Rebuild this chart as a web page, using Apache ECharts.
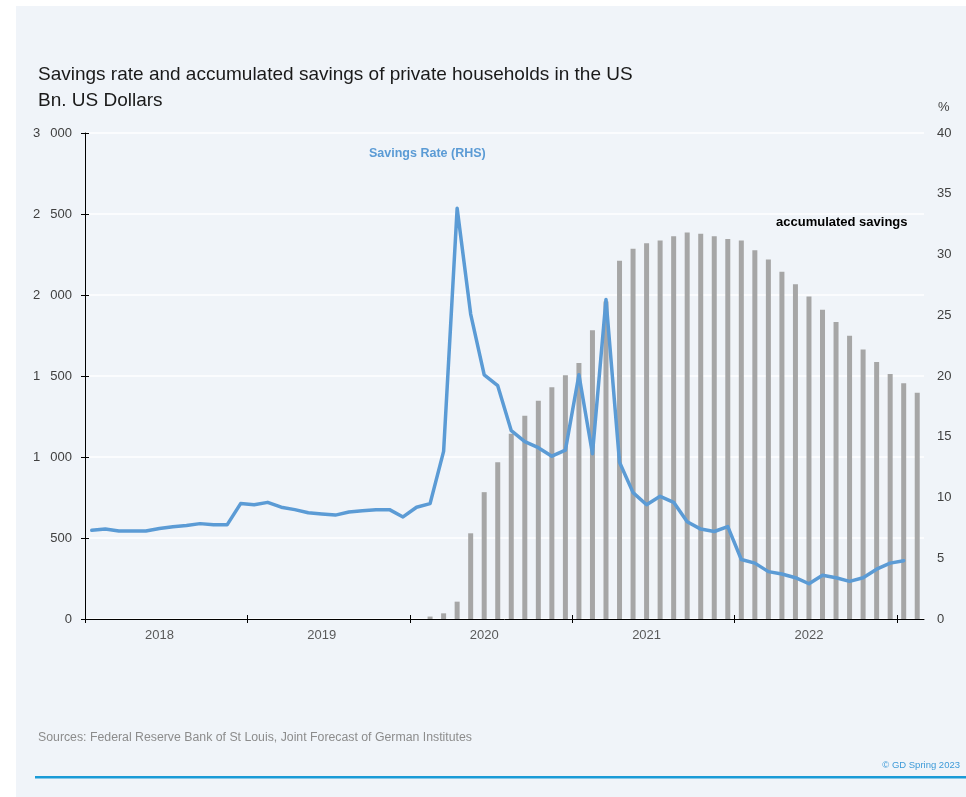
<!DOCTYPE html>
<html>
<head>
<meta charset="utf-8">
<script src="https://cdn.jsdelivr.net/npm/echarts@6/dist/echarts.min.js"></script>
<style>
  html, body { margin: 0; padding: 0; background: #ffffff; }
  #panel { position: absolute; left: 16px; top: 6px; right: 0; bottom: 0; background: #f0f4f9; }
  #chart { position: absolute; left: 0; top: 0; width: 966px; height: 797px; }
</style>
</head>
<body>
<div id="panel"></div>
<div id="chart"></div>
<script>
// Monthly observations, January 2018 to February 2023
const years = ['2018', '2019', '2020', '2021', '2022', '2023'];
const monthsInLastYear = 2;

// Personal savings rate in percent (right axis), Jan 2018 - Jan 2023
const savingsRate = [
  7.3, 7.4, 7.25, 7.25, 7.25, 7.45, 7.6, 7.7, 7.85, 7.75, 7.75, 9.5,
  9.4, 9.6, 9.2, 9.0, 8.75, 8.65, 8.55, 8.8, 8.9, 9.0, 9.0, 8.4,
  9.2, 9.5, 13.8, 33.8, 25.1, 20.1, 19.2, 15.5, 14.6, 14.1, 13.4, 13.9,
  20.1, 13.6, 26.3, 12.9, 10.4, 9.4, 10.1, 9.6, 8.0, 7.4, 7.2, 7.6,
  4.9, 4.6, 3.9, 3.7, 3.4, 2.9, 3.6, 3.4, 3.1, 3.4, 4.1, 4.6,
  4.8
];

// Accumulated excess savings in bn. US dollars (left axis), Jan 2018 - Feb 2023
const accumulatedSavings = [
  null, null, null, null, null, null, null, null, null, null, null, null,
  null, null, null, null, null, null, null, null, null, null, null, null,
  null, 15, 35, 107, 529, 783, 968, 1143, 1254, 1347, 1431, 1505,
  1581, 1783, 1960, 2211, 2285, 2320, 2337, 2362, 2386, 2378, 2362, 2345,
  2337, 2277, 2219, 2143, 2067, 1991, 1909, 1833, 1748, 1663, 1587, 1513,
  1456, 1396
];

// Axis scales
const leftAxis = { min: 0, max: 3000, interval: 500 };
const rightAxis = { min: 0, max: 40, interval: 5 };
const yearBoundaries = [0, 12, 24, 36, 48, 60];

const months = [];
years.forEach(function (y, k) {
  const n = k === years.length - 1 ? monthsInLastYear : 12;
  for (let m = 1; m <= n; m++) months.push(y + '-' + (m < 10 ? '0' + m : m));
});

const FONT = 'Liberation Sans, Arial, sans-serif';

function thousands(v) {
  if (v < 1000) return String(v);
  const head = Math.floor(v / 1000);
  const tail = String(v % 1000).padStart(3, '0');
  return head + '\u2002 ' + tail;
}

const chart = echarts.init(document.getElementById('chart'), null, { renderer: 'canvas' });

const tickAxisBase = {
  type: 'value',
  min: 0,
  max: months.length,
  position: 'bottom',
  axisLine: { show: false },
  axisLabel: { show: false },
  splitLine: { show: false }
};

const option = {
  animation: false,
  backgroundColor: 'transparent',
  grid: { left: 85, right: 42, top: 133, bottom: 178, containLabel: false },
  xAxis: [
    {
      type: 'category',
      data: months,
      boundaryGap: true,
      axisLine: { lineStyle: { color: '#000000', width: 1 } },
      axisTick: { show: false },
      axisLabel: {
        interval: function (i) { return i % 12 === 5; },
        formatter: function (v) { return v.slice(0, 4); },
        color: '#595959',
        fontFamily: FONT,
        fontSize: 13,
        margin: 10
      },
      splitLine: { show: false }
    },
    Object.assign({}, tickAxisBase, {
      axisTick: { show: true, inside: false, length: 4, customValues: yearBoundaries, lineStyle: { color: '#000000', width: 1 } }
    }),
    Object.assign({}, tickAxisBase, {
      axisTick: { show: true, inside: true, length: 4, customValues: yearBoundaries, lineStyle: { color: '#000000', width: 1 } }
    })
  ],
  yAxis: [
    {
      type: 'value',
      position: 'left',
      min: leftAxis.min, max: leftAxis.max, interval: leftAxis.interval,
      axisLine: { show: true, lineStyle: { color: '#000000', width: 1 } },
      axisTick: { show: true, inside: false, length: 4, lineStyle: { color: '#000000' } },
      axisLabel: { formatter: thousands, color: '#404040', fontFamily: FONT, fontSize: 13, margin: 13 },
      splitLine: { show: true, lineStyle: { color: '#ffffff', width: 1.5 } }
    },
    {
      type: 'value',
      position: 'right',
      min: rightAxis.min, max: rightAxis.max, interval: rightAxis.interval,
      axisLine: { show: false },
      axisTick: { show: false },
      axisLabel: { color: '#404040', fontFamily: FONT, fontSize: 13, margin: 13 },
      splitLine: { show: false }
    },
    {
      type: 'value',
      position: 'left',
      min: leftAxis.min, max: leftAxis.max, interval: leftAxis.interval,
      axisLine: { show: false },
      axisTick: { show: true, inside: true, length: 4, lineStyle: { color: '#000000' } },
      axisLabel: { show: false },
      splitLine: { show: false }
    }
  ],
  series: [
    {
      name: 'accumulated savings',
      type: 'bar',
      xAxisIndex: 0,
      yAxisIndex: 0,
      data: accumulatedSavings,
      barWidth: 5,
      itemStyle: { color: '#a6a6a6' },
      z: 2
    },
    {
      name: 'Savings Rate (RHS)',
      type: 'line',
      xAxisIndex: 0,
      yAxisIndex: 1,
      data: savingsRate,
      showSymbol: false,
      symbol: 'none',
      lineStyle: { color: '#5b9bd5', width: 3.5, join: 'round', cap: 'round' },
      z: 3
    }
  ],
  graphic: [
    { type: 'text', left: 38, top: 65, style: { text: 'Savings rate and accumulated savings of private households in the US', font: '19px ' + FONT, fill: '#1a1a1a' } },
    { type: 'text', left: 38, top: 91, style: { text: 'Bn. US Dollars', font: '19px ' + FONT, fill: '#1a1a1a' } },
    { type: 'text', left: 938, top: 101, style: { text: '%', font: '13px ' + FONT, fill: '#404040' } },
    { type: 'text', left: 369, top: 147, style: { text: 'Savings Rate (RHS)', font: 'bold 12.5px ' + FONT, fill: '#5b9bd5' } },
    { type: 'text', left: 776, top: 216, style: { text: 'accumulated savings', font: 'bold 13px ' + FONT, fill: '#000000' } },
    { type: 'text', left: 38, top: 732, style: { text: 'Sources: Federal Reserve Bank of St Louis, Joint Forecast of German Institutes', font: '12.3px ' + FONT, fill: '#8c8c8c' } },
    { type: 'text', right: 6, top: 760, style: { text: '\u00a9 GD Spring 2023', font: '9.5px ' + FONT, fill: '#3d9ad8' } },
    { type: 'rect', left: 35, top: 776, shape: { width: 931, height: 2.5 }, style: { fill: '#1a9bd7' } }
  ]
};

chart.setOption(option);
</script>
</body>
</html>
